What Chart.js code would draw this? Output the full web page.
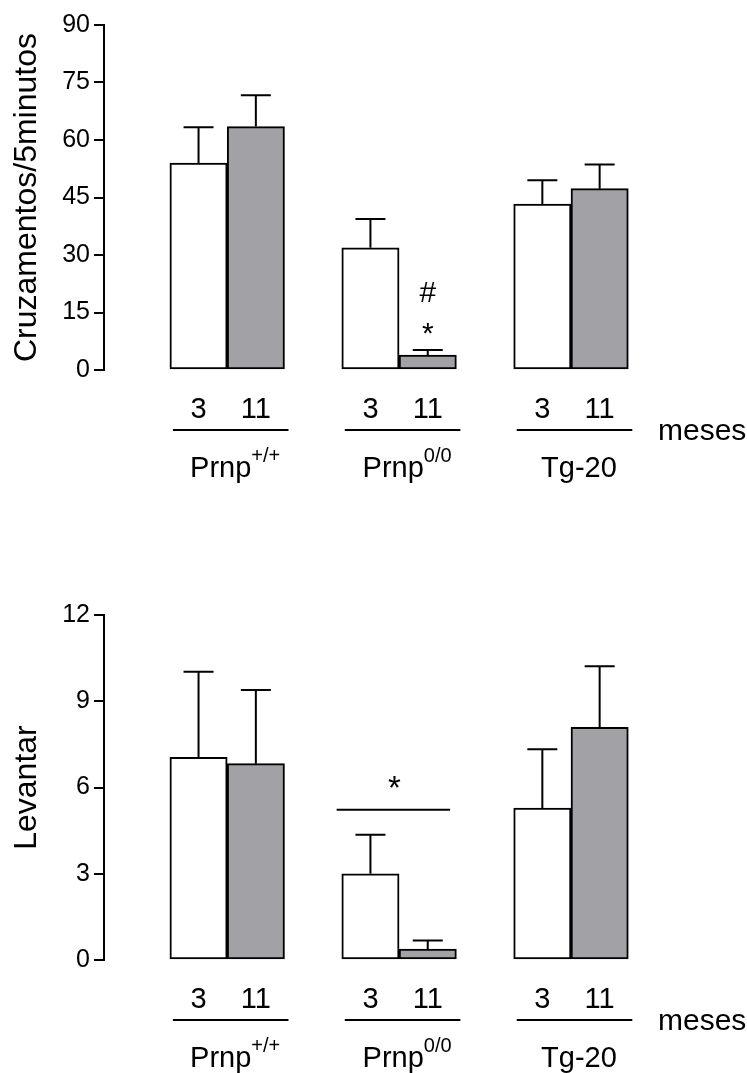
<!DOCTYPE html>
<html lang="pt-br">
<head>
  <meta charset="UTF-8" />
  <title>Cruzamentos e Levantar</title>
  <script src="https://cdn.jsdelivr.net/npm/chart.js"></script>
  <style>
    body { margin: 0; background: #fff; }
    .painel { position: absolute; left: 0; width: 747px; }
  </style>
</head>
<body>
  <div class="painel" style="top:0;height:590px"><canvas id="graficoCruz"></canvas></div>
  <div class="painel" style="top:590px;height:483px"><canvas id="graficoLev"></canvas></div>

  <script>
    // grupos e idades (meses)
    const grupos = ["Prnp", "Prnp", "Tg-20"];
    const expoentes = ["+/+", "0/0", ""];
    const idades = ["3", "11"];

    // Cruzamentos/5minutos
    const cruz3 = [54, 31.9, 43.3];
    const cruz11 = [63.5, 3.9, 47.3];
    const cruzErro3 = [9.3, 7.5, 6.2];
    const cruzErro11 = [8.2, 1.3, 6.3];
    const ticksCruz = [0, 15, 30, 45, 60, 75, 90];

    // Levantar
    const lev3 = [7.05, 3.0, 5.28];
    const lev11 = [6.83, 0.38, 8.09];
    const levErro3 = [2.98, 1.36, 2.05];
    const levErro11 = [2.56, 0.3, 2.13];
    const ticksLev = [0, 3, 6, 9, 12];

    const fonte = "'Liberation Sans', Arial, Helvetica, sans-serif";
    const cinza = "#a2a1a6";
    Chart.defaults.font.family = fonte;
    Chart.defaults.color = "#000";

    function textoCentrado(ctx, t, x, y) {
      const m = ctx.measureText(t);
      ctx.fillText(t, x, y + (m.actualBoundingBoxAscent - m.actualBoundingBoxDescent) / 2);
    }

    const erroPlugin = {
      id: "erros",
      afterDatasetsDraw(chart) {
        const ctx = chart.ctx;
        const y = chart.scales.y;
        ctx.save();
        ctx.strokeStyle = "#000";
        ctx.lineWidth = 2;
        chart.data.datasets.forEach((ds, i) => {
          chart.getDatasetMeta(i).data.forEach((bar, j) => {
            const topo = y.getPixelForValue(ds.data[j].y + ds.erros[j]);
            ctx.beginPath();
            ctx.moveTo(bar.x, bar.y);
            ctx.lineTo(bar.x, topo);
            ctx.moveTo(bar.x - 15, topo);
            ctx.lineTo(bar.x + 15, topo);
            ctx.stroke();
          });
        });
        ctx.restore();
      }
    };

    const rotulosPlugin = {
      id: "rotulos",
      afterDraw(chart, args, opts) {
        const ctx = chart.ctx;
        const x = chart.scales.x;
        const y = chart.scales.y;
        const base = chart.chartArea.bottom;
        ctx.save();
        ctx.fillStyle = "#000";
        ctx.strokeStyle = "#000";
        ctx.lineWidth = 2;
        ctx.textBaseline = "alphabetic";

        grupos.forEach((nome, g) => {
          ctx.font = "29px " + fonte;
          ctx.textAlign = "center";
          idades.forEach((idade, k) => {
            ctx.fillText(idade, x.getPixelForValue(g * 3 + k), base + 48);
          });

          // linha do grupo
          ctx.beginPath();
          ctx.moveTo(x.getPixelForValue(g * 3 - 0.5) + 3, base + 60);
          ctx.lineTo(x.getPixelForValue(g * 3 + 1.5) + 4, base + 60);
          ctx.stroke();

          // nome do grupo com expoente
          ctx.textAlign = "left";
          ctx.font = "29px " + fonte;
          const w1 = ctx.measureText(nome).width;
          ctx.font = "20px " + fonte;
          const w2 = ctx.measureText(expoentes[g]).width;
          const cx = x.getPixelForValue(g * 3 + 0.5) + 8;
          const x0 = cx - (w1 + w2) / 2;
          ctx.font = "29px " + fonte;
          ctx.fillText(nome, x0, base + 107);
          ctx.font = "20px " + fonte;
          ctx.fillText(expoentes[g], x0 + w1, base + 92);
        });

        ctx.font = "30px " + fonte;
        ctx.textAlign = "left";
        ctx.fillText("meses", chart.chartArea.right - 19, base + 70);

        // marcas de significância
        (opts.notas || []).forEach(n => {
          ctx.font = n.tamanho + "px " + fonte;
          ctx.textAlign = "center";
          textoCentrado(ctx, n.texto, x.getPixelForValue(n.x), y.getPixelForValue(n.y));
        });
        if (opts.linha) {
          const ly = y.getPixelForValue(opts.linha.y);
          ctx.beginPath();
          ctx.moveTo(x.getPixelForValue(opts.linha.de), ly);
          ctx.lineTo(x.getPixelForValue(opts.linha.ate), ly);
          ctx.stroke();
        }
        ctx.restore();
      }
    };

    function montarGrafico(id, titulo, v3, v11, e3, e11, ticks, padBaixo, rotulos) {
      const barra = {
        borderColor: "#000",
        borderWidth: 2,
        borderSkipped: false,
        grouped: false,
        barPercentage: 1,
        categoryPercentage: 1
      };
      return new Chart(document.getElementById(id), {
        type: "bar",
        data: {
          datasets: [
            Object.assign({ label: idades[0], data: v3.map((v, g) => ({ x: g * 3, y: v })), erros: e3, backgroundColor: "#fff" }, barra),
            Object.assign({ label: idades[1], data: v11.map((v, g) => ({ x: g * 3 + 1, y: v })), erros: e11, backgroundColor: cinza }, barra)
          ]
        },
        options: {
          responsive: true,
          maintainAspectRatio: false,
          animation: false,
          layout: { padding: { top: 25, bottom: padBaixo, left: 0, right: 70 } },
          plugins: {
            legend: { display: false },
            tooltip: { enabled: false },
            rotulos: rotulos
          },
          scales: {
            x: {
              type: "linear",
              min: -1.65,
              max: 8.35,
              offset: false,
              display: false,
              grid: { offset: false },
              ticks: { stepSize: 1, includeBounds: false }
            },
            y: {
              min: ticks[0],
              max: ticks[ticks.length - 1],
              afterBuildTicks: s => { s.ticks = ticks.map(v => ({ value: v })); },
              afterFit: s => { s.width = 104; },
              border: { display: true, color: "#000", width: 2 },
              grid: { drawOnChartArea: false, color: "#000", lineWidth: 2, tickLength: 10 },
              ticks: { color: "#000", font: { size: 25 }, padding: 4 },
              title: { display: true, text: titulo, color: "#000", font: { size: 32 }, padding: { top: 8, bottom: 0 } }
            }
          }
        },
        plugins: [erroPlugin, rotulosPlugin]
      });
    }

    montarGrafico("graficoCruz", "Cruzamentos/5minutos", cruz3, cruz11, cruzErro3, cruzErro11, ticksCruz, 220, {
      notas: [
        { texto: "#", x: 4, y: 20.3, tamanho: 30 },
        { texto: "*", x: 4, y: 10.9, tamanho: 30 }
      ]
    });

    montarGrafico("graficoLev", "Levantar", lev3, lev11, levErro3, levErro11, ticksLev, 113, {
      notas: [{ texto: "*", x: 3.42, y: 6.19, tamanho: 33 }],
      linha: { de: 2.41, ate: 4.39, y: 5.23 }
    });
  </script>
</body>
</html>
